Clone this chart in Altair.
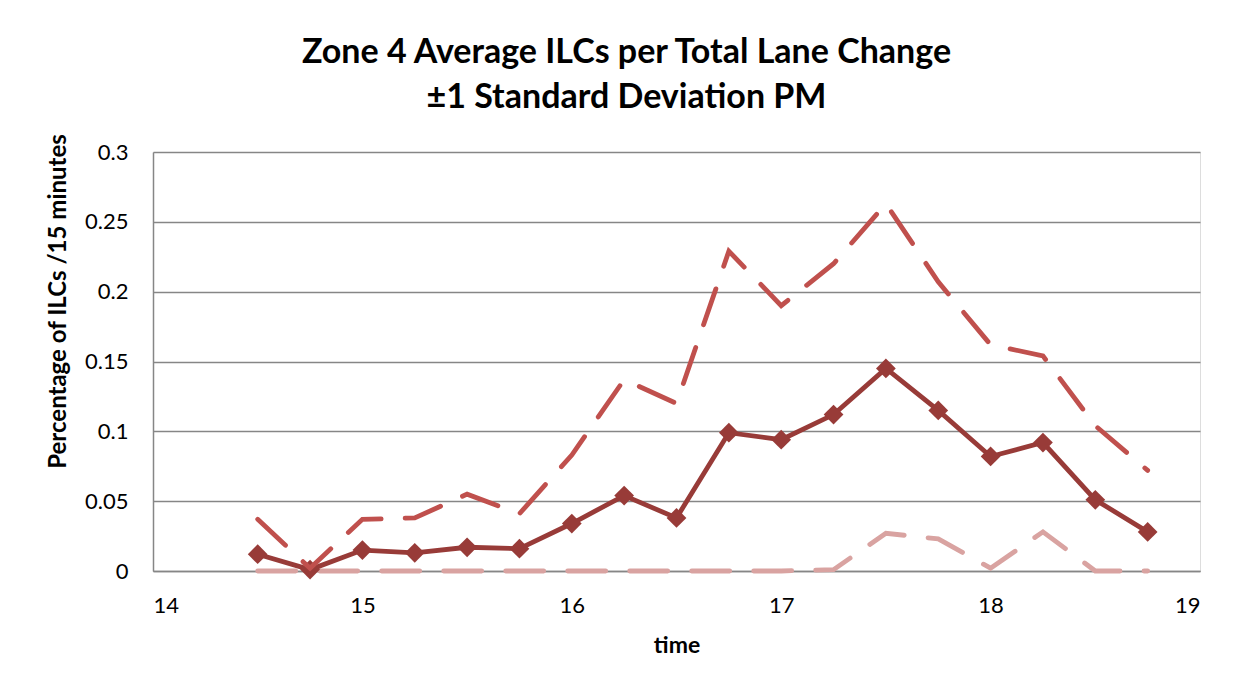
import altair as alt
import pandas as pd

# ---- data ----
times = [14.5, 14.75, 15.0, 15.25, 15.5, 15.75, 16.0, 16.25, 16.5,
         16.75, 17.0, 17.25, 17.5, 17.75, 18.0, 18.25, 18.5, 18.75]
mean_vals = [0.012, 0.001, 0.015, 0.013, 0.017, 0.016, 0.034, 0.054, 0.038,
             0.099, 0.094, 0.112, 0.145, 0.115, 0.082, 0.092, 0.051, 0.028]
upper_vals = [0.037, 0.002, 0.037, 0.038, 0.055, 0.041, 0.083, 0.137, 0.120,
              0.229, 0.190, 0.220, 0.263, 0.207, 0.162, 0.154, 0.104, 0.072]
lower_vals = [0.0, 0.0, 0.0, 0.0, 0.0, 0.0, 0.0, 0.0, 0.0,
              0.0, 0.0, 0.001, 0.027, 0.023, 0.002, 0.028, 0.0, 0.0]
x_ticks = [14, 15, 16, 17, 18, 19]
y_ticks = [0, 0.05, 0.1, 0.15, 0.2, 0.25, 0.3]

title_lines = ["Zone 4 Average ILCs per Total Lane Change", "±1 Standard Deviation PM"]

FONT = "Lato"
GRID = "#868686"

df = pd.DataFrame({
    "time": times * 3,
    "value": mean_vals + upper_vals + lower_vals,
    "series": ["mean"] * len(times) + ["upper"] * len(times) + ["lower"] * len(times),
})

x_enc = alt.X("time:Q",
              scale=alt.Scale(domain=[14, 19], nice=False, zero=False),
              axis=alt.Axis(values=x_ticks, format="d", title="time", grid=False,
                            ticks=False, labelFontSize=22, labelPadding=24,
                            titleFontSize=23, titleFontWeight="bold", titlePadding=18,
                            domainColor=GRID, domainWidth=1.5,
                            labelColor="black", titleColor="black",
                            labelFont=FONT, titleFont=FONT))
y_enc = alt.Y("value:Q",
              scale=alt.Scale(domain=[0, 0.3], nice=False),
              axis=alt.Axis(values=y_ticks, format="~g",
                            title="Percentage of ILCs /15 minutes",
                            grid=True, gridColor=GRID, gridWidth=1.5, ticks=False,
                            labelFontSize=22, labelPadding=25,
                            titleFontSize=24, titleFontWeight="bold",
                            titleX=-95, titleY=149, titleBaseline="middle",
                            titleAnchor="middle",
                            domainColor=GRID, domainWidth=1.5,
                            labelColor="black", titleColor="black",
                            labelFont=FONT, titleFont=FONT))

base = alt.Chart(df)

lower = base.transform_filter(alt.datum.series == "lower").mark_line(
    color="#D9A3A1", strokeWidth=4.8, strokeDash=[38, 24], strokeCap="round"
).encode(x=x_enc, y=y_enc)

mean_line = base.transform_filter(alt.datum.series == "mean").mark_line(
    color="#983B38", strokeWidth=4.8,
    point=alt.OverlayMarkDef(shape="diamond", size=390, filled=True, color="#983B38")
).encode(x=x_enc, y=y_enc)

upper = base.transform_filter(alt.datum.series == "upper").mark_line(
    color="#C0504D", strokeWidth=4.8, strokeDash=[38, 24], strokeCap="round"
).encode(x=x_enc, y=y_enc)

chart = alt.layer(lower, mean_line, upper).properties(
    width=1047, height=419,
    title=alt.TitleParams(text=title_lines, fontSize=34, font=FONT, fontWeight="bold",
                          anchor="middle", dx=-50, lineHeight=45, offset=19,
                          color="black"),
    autosize=alt.AutoSizeParams(type="none"),
    padding={"left": 145, "top": 144, "right": 33, "bottom": 111},
).configure_view(stroke=None).configure(background="white")

chart.save("out.html", embed_options={"renderer": "svg", "actions": False})
